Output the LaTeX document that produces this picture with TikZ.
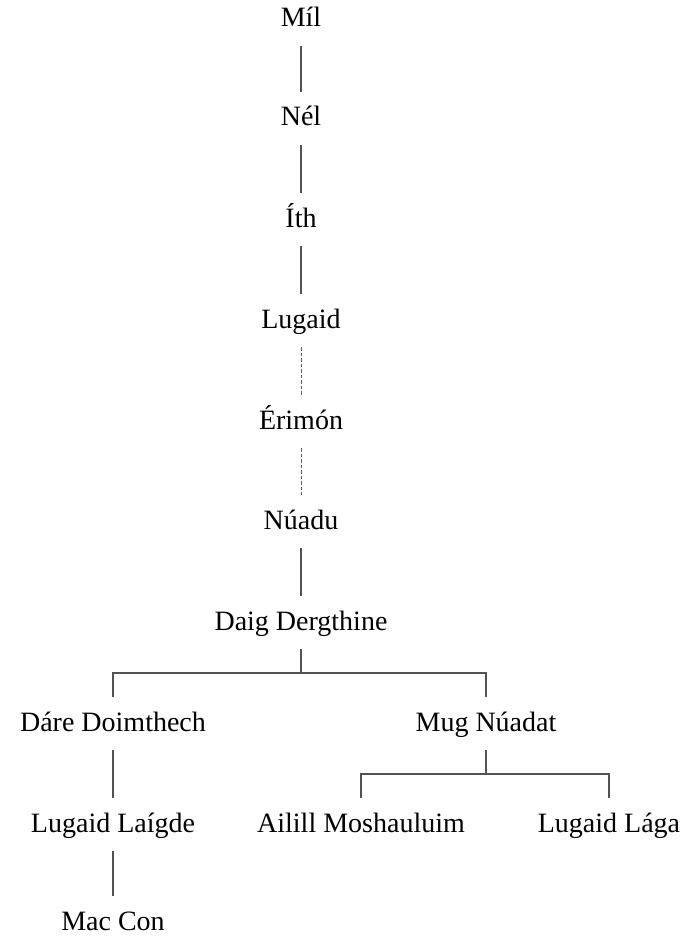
\documentclass[tikz,border=0pt]{standalone}
\usepackage{fontspec}
\setmainfont{Liberation Serif}
\begin{document}
\begin{tikzpicture}[x=1pt,y=1pt,
  person/.style={anchor=base, inner sep=0pt, text height=34pt, text depth=19pt, font=\fontsize{28}{32}\selectfont},
  line/.style={draw=black!68, line width=1.1pt},
  uncertain/.style={draw=black!62, line width=0.9pt, dash pattern=on 3.5pt off 2pt}]
\useasboundingbox (0,0) rectangle (682,-936);
% main line of descent
\node[person] (mil)    at (301,-27)  {Míl};
\node[person] (nel)    at (301,-126) {Nél};
\node[person] (ith)    at (301,-227) {Íth};
\node[person] (lug)    at (301,-328) {Lugaid};
\node[person] (erim)   at (301,-429) {Érimón};
\node[person] (nuadu)  at (301,-529) {Núadu};
\node[person] (daig)   at (301,-630) {Daig Dergthine};
% sons of Daig Dergthine
\node[person] (dare)   at (113,-731) {Dáre Doimthech};
\node[person] (mug)    at (486,-731) {Mug Núadat};
% next generation
\node[person] (laigde) at (113,-832) {Lugaid Laígde};
\node[person] (ailill) at (361,-832) {Ailill Moshauluim};
\node[person] (laga)   at (609,-832) {Lugaid Lága};
\node[person] (maccon) at (113,-930) {Mac Con};

\coordinate (daigbar) at (301,-673);
\coordinate (mugbar)  at (486,-774);

\draw[line] (mil) -- (nel);
\draw[line] (nel) -- (ith);
\draw[line] (ith) -- (lug);
\draw[uncertain] (lug) -- (erim);
\draw[uncertain] (erim) -- (nuadu);
\draw[line] (nuadu) -- (daig);

\draw[line] (daig.south) -- (daigbar);
\draw[line] (dare.north) |- (daigbar) -| (mug.north);

\draw[line] (mug.south) -- (mugbar);
\draw[line] (ailill.north) |- (mugbar) -| (laga.north);

\draw[line] (dare) -- (laigde);
\draw[line] (laigde) -- (maccon);
\end{tikzpicture}
\end{document}
